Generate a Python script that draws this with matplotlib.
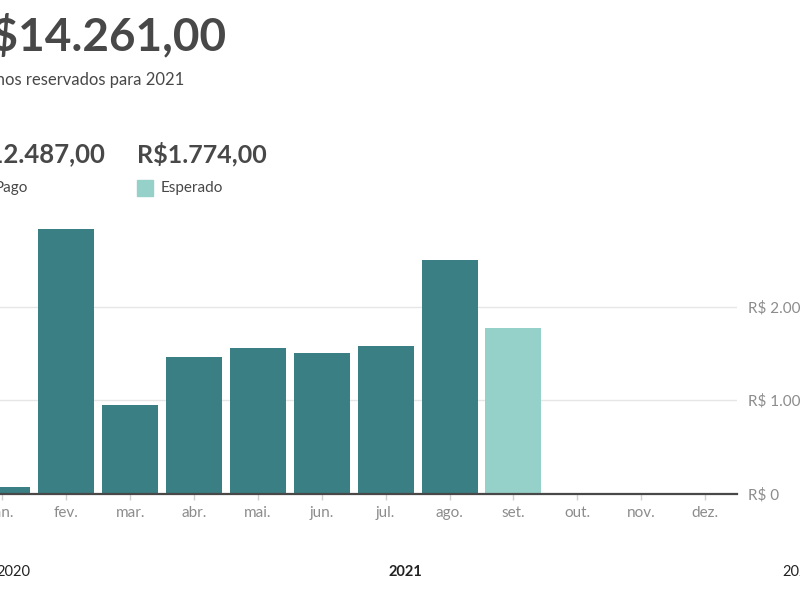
import matplotlib
matplotlib.use("Agg")
from matplotlib import pyplot as plt
from matplotlib.patches import Rectangle

plt.rcParams['font.family'] = ['Lato', 'DejaVu Sans']

months = ["jan.", "fev.", "mar.", "abr.", "mai.", "jun.", "jul.", "ago.", "set.", "out.", "nov.", "dez."]
pago = [75, 2830, 950, 1460, 1555, 1500, 1575, 2500, 0, 0, 0, 0]
esperado = [0, 0, 0, 0, 0, 0, 0, 0, 1774, 0, 0, 0]
y_ticks = [0, 1000, 2000]
y_labels = ["R$ 0", "R$ 1.000", "R$ 2.000"]
total_txt = "R$14.261,00"
subtitle_txt = "Ganhos reservados para 2021"
pago_txt = "R$12.487,00"
esperado_txt = "R$1.774,00"
years = ["2020", "2021", "2022"]

DARK = "#3a7f83"
LIGHT = "#96d1c9"
TEXT = "#484848"
GRAY = "#8c8c8c"

W, H = 800, 600
fig = plt.figure(figsize=(8, 6), dpi=100)

# axes partly off the left edge, like the cropped screenshot
x0, x1 = -29.5, 737
base = 106.3
px_per_1000 = 93.5
ax = fig.add_axes([x0 / W, base / H, (x1 - x0) / W, 3 * px_per_1000 / H])

xs = range(len(months))
ax.bar(xs, pago, width=0.875, color=DARK, zorder=3)
ax.bar(xs, esperado, width=0.875, color=LIGHT, zorder=3)
ax.set_xlim(-0.5, len(months) - 0.5)
ax.set_ylim(0, 3000)

ax.set_xticks(list(xs))
ax.set_xticklabels(months, color=GRAY, fontsize=11)
ax.tick_params(axis='x', length=4, width=1, color="#d0d0d0", pad=5)

ax.yaxis.tick_right()
ax.set_yticks(y_ticks)
ax.set_yticklabels(y_labels, color=GRAY, fontsize=11)
ax.tick_params(axis='y', length=0, pad=8)
ax.grid(axis='y', color="#e6e6e6", linewidth=1, zorder=0)

for s in ["top", "left", "right"]:
    ax.spines[s].set_visible(False)
ax.spines["bottom"].set_color(TEXT)
ax.spines["bottom"].set_linewidth(1.6)
ax.spines["bottom"].set_zorder(4)

# header
fig.text(226 / W, 1 - 36 / H, total_txt, ha='right', va='center',
         fontsize=33, fontweight='bold', color=TEXT)
fig.text(184 / W, 1 - 80 / H, subtitle_txt, ha='right', va='center',
         fontsize=12, color=TEXT)
fig.text(106 / W, 1 - 154 / H, pago_txt, ha='right', va='center',
         fontsize=18.5, fontweight='bold', color=TEXT)
fig.text(137 / W, 1 - 154 / H, esperado_txt, ha='left', va='center',
         fontsize=18, fontweight='bold', color=TEXT)
fig.text(28 / W, 1 - 188 / H, "Pago", ha='right', va='center', fontsize=11, color=TEXT)
fig.text(161 / W, 1 - 188 / H, "Esperado", ha='left', va='center', fontsize=11, color=TEXT)
fig.patches.append(Rectangle((137 / W, 1 - 196 / H), 16 / W, 16 / H,
                             transform=fig.transFigure, color=LIGHT))

# year labels
fig.text(30 / W, 1 - 572 / H, years[0], ha='right', va='center', fontsize=10.5, color="#222222")
fig.text(405 / W, 1 - 572 / H, years[1], ha='center', va='center', fontsize=10.5,
         fontweight='bold', color="#222222")
fig.text(782 / W, 1 - 572 / H, years[2], ha='left', va='center', fontsize=10.5, color="#222222")

fig.savefig("out.png", dpi=100)
